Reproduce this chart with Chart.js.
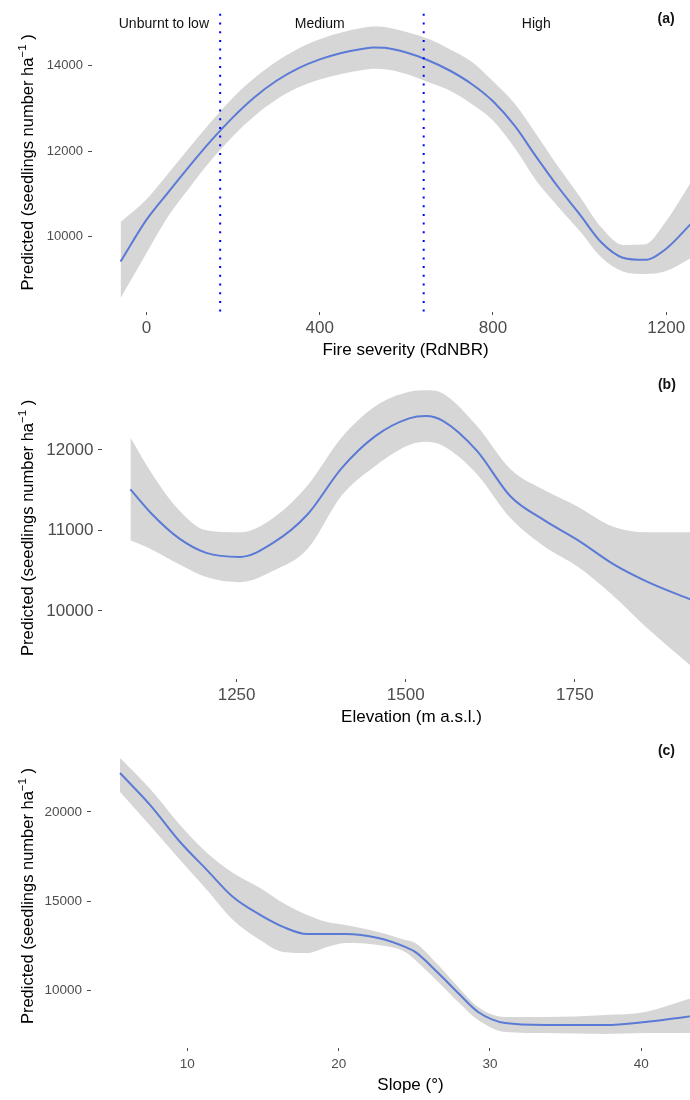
<!DOCTYPE html>
<html>
<head>
<meta charset="utf-8">
<script src="https://cdn.jsdelivr.net/npm/chart.js@4.4.1/dist/chart.umd.min.js"></script>
<style>
  html, body { margin: 0; padding: 0; background: #ffffff; overflow: hidden; }
  #wrap { position: relative; width: 690px; height: 1100px; overflow: hidden; background: #fff; }
  .panel { position: absolute; left: 0; }
  canvas { display: block; }
</style>
</head>
<body>
<div id="wrap">
  <div class="panel" style="top:0px"><canvas id="chartA" width="719" height="362"></canvas></div>
  <div class="panel" style="top:362px"><canvas id="chartB" width="721" height="368"></canvas></div>
  <div class="panel" style="top:730px"><canvas id="chartC" width="730" height="370"></canvas></div>
</div>
<script>
// ---------------- DATA ----------------
// (a) Fire severity (RdNBR)
const severityX     = [-60, 0, 50, 100, 150, 200, 250, 300, 350, 400, 450, 500, 525, 550, 600, 650, 700, 750, 800, 850, 900, 950, 1000, 1050, 1100, 1150, 1200, 1256];
const severityFit   = [9420, 10400, 11040, 11665, 12260, 12800, 13270, 13650, 13940, 14150, 14300, 14400, 14430, 14420, 14310, 14130, 13890, 13580, 13170, 12600, 11870, 11170, 10530, 9870, 9510, 9460, 9720, 10290];
const severityUpper = [10345, 10880, 11480, 12100, 12700, 13260, 13720, 14100, 14400, 14620, 14780, 14890, 14920, 14910, 14790, 14630, 14390, 14100, 13640, 13120, 12400, 11650, 10950, 10220, 9810, 9820, 10370, 11250];
const severityLower = [8565, 9620, 10480, 11160, 11800, 12360, 12830, 13210, 13490, 13680, 13810, 13900, 13930, 13920, 13810, 13620, 13420, 13110, 12720, 12080, 11310, 10710, 10140, 9520, 9190, 9130, 9200, 9500];
const severityThresholds = [170, 640];
const severityClasses    = ['Unburnt to low', 'Medium', 'High'];
const severityClassX     = [40, 400, 900];
const severityXTicks = [0, 400, 800, 1200];
const severityYTicks = [10000, 12000, 14000];

// (b) Elevation (m a.s.l.)
const elevX     = [1093, 1125, 1165, 1205, 1255, 1305, 1355, 1405, 1455, 1505, 1530, 1555, 1605, 1655, 1705, 1755, 1805, 1855, 1924];
const elevFit   = [11508, 11200, 10900, 10720, 10670, 10850, 11200, 11770, 12170, 12390, 12420, 12360, 11990, 11420, 11124, 10876, 10590, 10370, 10130];
const elevUpper = [12152, 11700, 11250, 11000, 10975, 11160, 11560, 12150, 12540, 12720, 12740, 12700, 12300, 11760, 11500, 11290, 11050, 10975, 10975];
const elevLower = [10876, 10760, 10580, 10420, 10356, 10500, 10770, 11430, 11800, 12060, 12100, 12050, 11700, 11150, 10800, 10545, 10200, 9800, 9300];
const elevXTicks = [1250, 1500, 1750];
const elevYTicks = [10000, 11000, 12000];

// (c) Slope (°)
const slopeX     = [5.55, 7.53, 9.52, 11.3, 13.02, 14.81, 16.33, 17.92, 19.24, 20.43, 22.61, 24.4, 25.06, 26.58, 27.9, 29.22, 31.01, 33.66, 37.63, 40.27, 42.92, 43.95];
const slopeFit   = [22180, 20400, 18320, 16750, 15240, 14240, 13570, 13170, 13170, 13170, 12950, 12450, 12170, 10990, 9870, 8810, 8190, 8080, 8080, 8250, 8530, 8620];
const slopeUpper = [23020, 21300, 19270, 17710, 16590, 15750, 14910, 14240, 13840, 13680, 13290, 12840, 12670, 11440, 10210, 9090, 8530, 8530, 8640, 8810, 9480, 9750];
const slopeLower = [21120, 19250, 17310, 15640, 13960, 12840, 12170, 12110, 12450, 12670, 12560, 12170, 11720, 10490, 9370, 8360, 7690, 7630, 7580, 7630, 7630, 7640];
const slopeXTicks = [10, 20, 30, 40];
const slopeYTicks = [10000, 15000, 20000];

const yTitleMain = 'Predicted (seedlings number ha';
const yTitleSup  = '\u22121';
const yTitleTail = ' )';

// ---------------- RENDERING ----------------
const FAM = "'Liberation Sans', Arial, Helvetica, sans-serif";
Chart.defaults.font.family = FAM;

const overlayPlugin = {
  id: 'overlay',
  afterDatasetsDraw(chart, args, o) {
    const { ctx, chartArea: a, scales: { x } } = chart;
    if (!o.vlines) return;
    ctx.save();
    ctx.strokeStyle = '#0000FF';
    ctx.lineWidth = 2;
    ctx.setLineDash([2, 6.7]);
    o.vlines.forEach(v => {
      const px = x.getPixelForValue(v);
      ctx.beginPath();
      ctx.moveTo(px, a.top + 1);
      ctx.lineTo(px, a.bottom);
      ctx.stroke();
    });
    ctx.restore();
  },
  afterDraw(chart, args, o) {
    const { ctx, chartArea: a, scales: { x, y } } = chart;
    const f = o.ytitleSize;
    ctx.save();
    ctx.fillStyle = '#000';
    ctx.translate(o.ytitleX, (a.top + a.bottom) / 2);
    ctx.rotate(-Math.PI / 2);
    ctx.textBaseline = 'alphabetic';
    ctx.textAlign = 'left';
    ctx.font = f + 'px ' + FAM;
    const w1 = ctx.measureText(yTitleMain).width;
    const w3 = ctx.measureText(yTitleTail).width;
    ctx.font = (f * 0.7) + 'px ' + FAM;
    const w2 = ctx.measureText(yTitleSup).width;
    const sx = -(w1 + w2 + w3) / 2;
    ctx.font = f + 'px ' + FAM;
    ctx.fillText(yTitleMain, sx, 0);
    ctx.font = (f * 0.7) + 'px ' + FAM;
    ctx.fillText(yTitleSup, sx + w1, -f * 0.45);
    ctx.font = f + 'px ' + FAM;
    ctx.fillText(yTitleTail, sx + w1 + w2, 0);
    ctx.restore();
    ctx.save();
    ctx.textAlign = 'center';
    ctx.textBaseline = 'middle';
    (o.texts || []).forEach(t => {
      ctx.font = t.font;
      ctx.fillStyle = t.color || '#000';
      ctx.fillText(t.text, x.getPixelForValue(t.x), y.getPixelForValue(t.y));
    });
    ctx.restore();
  }
};

function pts(xs, ys) { return xs.map((v, i) => ({ x: v, y: ys[i] })); }

function buildChart(id, d) {
  return new Chart(document.getElementById(id), {
    type: 'line',
    data: {
      datasets: [
        { data: pts(d.x, d.lower), borderWidth: 0, borderColor: 'rgba(0,0,0,0)', pointRadius: 0, fill: false, cubicInterpolationMode: 'monotone' },
        { data: pts(d.x, d.upper), borderWidth: 0, borderColor: 'rgba(0,0,0,0)', pointRadius: 0, fill: '-1', backgroundColor: 'rgba(153,153,153,0.4)', cubicInterpolationMode: 'monotone' },
        { data: pts(d.x, d.fit), borderWidth: 2, borderColor: '#3366FF', pointRadius: 0, fill: false, cubicInterpolationMode: 'monotone' }
      ]
    },
    plugins: [overlayPlugin],
    options: {
      responsive: false,
      animation: false,
      events: [],
      layout: { padding: { top: d.padTop, left: 0, right: 0, bottom: 0 } },
      plugins: { legend: { display: false }, tooltip: { enabled: false }, overlay: d.overlay },
      scales: {
        x: {
          type: 'linear', min: d.xMin, max: d.xMax,
          afterBuildTicks: ax => { ax.ticks = d.xTicks.map(v => ({ value: v })); },
          afterFit: ax => { ax.height = d.xAxisH; },
          grid: { drawOnChartArea: false, drawTicks: true, tickLength: 3, tickColor: '#4d4d4d', tickWidth: 1, color: 'rgba(0,0,0,0)' },
          border: { display: false },
          ticks: { autoSkip: false, maxRotation: 0, color: '#4d4d4d', font: { size: d.xTickSize }, padding: d.xTickPad, callback: v => String(v) },
          title: { display: true, text: d.xTitle, color: '#000', font: { size: 17 }, padding: { top: 0, bottom: d.xTitlePad } }
        },
        y: {
          type: 'linear', min: d.yMin, max: d.yMax,
          afterBuildTicks: ax => { ax.ticks = d.yTicks.map(v => ({ value: v })); },
          afterFit: ax => { ax.width = d.yAxisW; },
          grid: { drawOnChartArea: false, drawTicks: true, tickLength: 4, tickColor: '#4d4d4d', tickWidth: 1, color: 'rgba(0,0,0,0)' },
          border: { display: false },
          ticks: { color: '#4d4d4d', font: { size: d.yTickSize }, padding: d.yTickPad, callback: v => String(v) }
        }
      }
    }
  });
}

buildChart('chartA', {
  x: severityX, fit: severityFit, upper: severityUpper, lower: severityLower,
  xMin: -126, xMax: 1322, yMin: 8240, yMax: 15240,
  xTicks: severityXTicks, yTicks: severityYTicks,
  padTop: 9, xAxisH: 50, yAxisW: 92,
  xTickSize: 17, xTickPad: 2.8, xTitlePad: 1.8, yTickSize: 13, yTickPad: 5,
  xTitle: 'Fire severity (RdNBR)',
  overlay: {
    ytitleX: 33, ytitleSize: 16.5,
    vlines: severityThresholds,
    texts: [
      { text: severityClasses[0], x: severityClassX[0], y: 14975, font: '14px ' + FAM, color: '#111' },
      { text: severityClasses[1], x: severityClassX[1], y: 14975, font: '14px ' + FAM, color: '#111' },
      { text: severityClasses[2], x: severityClassX[2], y: 14975, font: '14px ' + FAM, color: '#111' },
      { text: '(a)', x: 1200, y: 15090, font: 'bold 14px ' + FAM, color: '#111' }
    ]
  }
});

buildChart('chartB', {
  x: elevX, fit: elevFit, upper: elevUpper, lower: elevLower,
  xMin: 1051, xMax: 1966, yMin: 9154, yMax: 12908,
  xTicks: elevXTicks, yTicks: elevYTicks,
  padTop: 14, xAxisH: 51, yAxisW: 102,
  xTickSize: 17, xTickPad: 2.8, xTitlePad: 2.8, yTickSize: 17, yTickPad: 4.5,
  xTitle: 'Elevation (m a.s.l.)',
  overlay: {
    ytitleX: 33, ytitleSize: 16.5,
    texts: [ { text: '(b)', x: 1886, y: 12809, font: 'bold 14px ' + FAM, color: '#111' } ]
  }
});

buildChart('chartC', {
  x: slopeX, fit: slopeFit, upper: slopeUpper, lower: slopeLower,
  xMin: 3.63, xMax: 45.87, yMin: 6793, yMax: 23805,
  xTicks: slopeXTicks, yTicks: slopeYTicks,
  padTop: 14, xAxisH: 52, yAxisW: 91,
  xTickSize: 13.5, xTickPad: 4.9, xTitlePad: 4.8, yTickSize: 13.5, yTickPad: 5,
  xTitle: 'Slope (°)',
  overlay: {
    ytitleX: 33, ytitleSize: 16.5,
    texts: [ { text: '(c)', x: 41.67, y: 23413, font: 'bold 14px ' + FAM, color: '#111' } ]
  }
});
</script>
</body>
</html>
